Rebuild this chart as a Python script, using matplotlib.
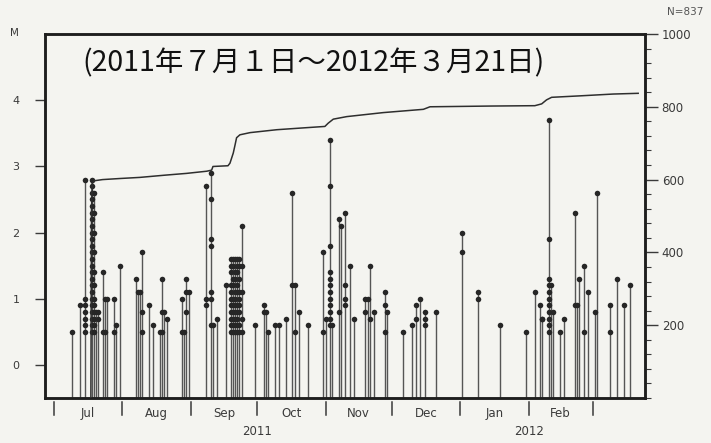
import matplotlib
matplotlib.use("Agg")
import matplotlib.pyplot as plt
import matplotlib.dates as mdates
import matplotlib.transforms as mtransforms
from matplotlib.ticker import MultipleLocator
import pandas as pd

# Events with M >= 0.5, grouped by day (one stem per day, one dot per event)
quake_dates = [
    "2011-07-09", "2011-07-13", "2011-07-15", "2011-07-18", "2011-07-19",
    "2011-07-20", "2011-07-21", "2011-07-23", "2011-07-24", "2011-07-25",
    "2011-07-28", "2011-07-29", "2011-07-31",
    "2011-08-07", "2011-08-08", "2011-08-09", "2011-08-10", "2011-08-13",
    "2011-08-15", "2011-08-18", "2011-08-19", "2011-08-20", "2011-08-21",
    "2011-08-28", "2011-08-29", "2011-08-30", "2011-08-31",
    "2011-09-08", "2011-09-10", "2011-09-11", "2011-09-13", "2011-09-17",
    "2011-09-19", "2011-09-20", "2011-09-21", "2011-09-22", "2011-09-23",
    "2011-09-24", "2011-09-30",
    "2011-10-04", "2011-10-05", "2011-10-06", "2011-10-09", "2011-10-11",
    "2011-10-14", "2011-10-17", "2011-10-18", "2011-10-20", "2011-10-24",
    "2011-10-31",
    "2011-11-01", "2011-11-03", "2011-11-04", "2011-11-07", "2011-11-08",
    "2011-11-10", "2011-11-12", "2011-11-14", "2011-11-19", "2011-11-20",
    "2011-11-21", "2011-11-23", "2011-11-28", "2011-11-29",
    "2011-12-06", "2011-12-10", "2011-12-12", "2011-12-14", "2011-12-16",
    "2011-12-21",
    "2012-01-02", "2012-01-09", "2012-01-19", "2012-01-31",
    "2012-02-04", "2012-02-06", "2012-02-07", "2012-02-10", "2012-02-11",
    "2012-02-12", "2012-02-15", "2012-02-17", "2012-02-22", "2012-02-23",
    "2012-02-24", "2012-02-26", "2012-02-28",
    "2012-03-02", "2012-03-03", "2012-03-09", "2012-03-12", "2012-03-15",
    "2012-03-18",
]

quake_mags = [
    [0.5], [0.9], [2.8, 1.0, 0.9, 0.8, 0.7, 0.6, 0.5],
    [2.8, 2.7, 2.6, 2.5, 2.4, 2.3, 2.2, 2.1, 2.0, 1.9, 1.8, 1.7,
     1.6, 1.5, 1.4, 1.3, 1.2, 1.1, 1.0, 0.9, 0.8, 0.7, 0.6, 0.5],
    [2.6, 2.3, 2.0, 1.7, 1.4, 1.2, 1.0, 0.9, 0.8, 0.7, 0.6, 0.5],
    [0.8], [0.8, 0.7], [1.4, 0.5], [1.0, 0.5], [1.0],
    [1.0, 0.5], [0.6], [1.5],
    [1.3], [1.1], [1.1], [1.7, 0.8, 0.5], [0.9],
    [0.6], [0.5], [1.3, 0.8, 0.5], [0.8], [0.7],
    [1.0, 0.5], [0.5], [1.3, 1.1, 0.8], [1.1],
    [2.7, 1.0, 0.9], [2.9, 2.5, 1.9, 1.8, 1.1, 1.0, 0.6], [0.6], [0.7], [1.2],
    [1.6, 1.5, 1.4, 1.2, 1.1, 1.0, 0.9, 0.8, 0.7, 0.6, 0.5],
    [1.6, 1.5, 1.3, 1.2, 1.0, 0.9, 0.8, 0.7, 0.6, 0.5],
    [1.6, 1.4, 1.3, 1.1, 1.0, 0.9, 0.8, 0.7, 0.6, 0.5],
    [1.6, 1.5, 1.4, 1.2, 1.1, 0.9, 0.8, 0.7, 0.6, 0.5],
    [1.6, 1.5, 1.3, 1.1, 1.0, 0.9, 0.8, 0.6, 0.5],
    [2.1, 1.5, 1.1, 0.7, 0.5], [0.6],
    [0.9, 0.8], [0.8], [0.5], [0.6], [0.6],
    [0.7], [2.6, 1.2], [1.2, 0.5], [0.8], [0.6],
    [1.7, 0.5],
    [0.7], [3.4, 2.7, 1.8, 1.4, 1.3, 1.2, 1.1, 1.0, 0.9, 0.8, 0.7, 0.6],
    [0.6], [2.2, 0.8], [2.1],
    [2.3, 1.2, 1.0, 0.9], [1.5], [0.7], [1.0, 0.8], [1.0],
    [1.5, 0.7], [0.8], [1.1, 0.9, 0.5], [0.8],
    [0.5], [0.6], [0.9, 0.7], [1.0], [0.8, 0.7, 0.6],
    [0.8],
    [2.0, 1.7], [1.1, 1.0], [0.6], [0.5],
    [1.1], [0.9], [0.7, 0.7],
    [3.7, 1.9, 1.3, 1.2, 1.1, 1.0, 0.9, 0.8, 0.7, 0.6, 0.5], [1.2],
    [0.8], [0.5], [0.7], [2.3, 0.9], [0.9],
    [1.3], [1.5, 0.5], [1.1],
    [0.8], [2.6], [0.9, 0.5], [1.3], [0.9],
    [1.2],
]

# Cumulative number of events, days counted from 2011-07-01
cum_days = [16.7, 17.0, 17.3, 18.5, 22, 30, 38.9, 50, 60, 69.2,
            71.4, 72.0, 78.8, 79.7, 81.2, 82.0, 82.7, 84.2, 88.8, 100.9,
            112.9, 122.7, 124.2, 126.5, 132.6, 149.1, 167.3, 170.3, 197.5,
            217.8, 220.9, 223.1, 225.4, 238.2, 253.3, 264.6]
cum_counts = [0, 520, 590, 597, 600, 603, 606, 612, 617, 623,
              626, 636, 638, 645, 673, 695, 715, 723, 729, 737,
              742, 746, 755, 766, 773, 784, 793, 800, 802,
              803, 808, 819, 826, 830, 835, 837]

month_starts = ["2011-07-01", "2011-08-01", "2011-09-01", "2011-10-01",
                "2011-11-01", "2011-12-01", "2012-01-01", "2012-02-01",
                "2012-03-01"]
month_names = ["Jul", "Aug", "Sep", "Oct", "Nov", "Dec", "Jan", "Feb"]
year_names = ["2011", "2012"]
year_centers = ["2011-10-01", "2012-02-01"]

mag_ticks = [0, 1, 2, 3, 4]
count_ticks = [200, 400, 600, 800, 1000]

BG = "#f4f4f0"
STEM = "#555555"
DOT = "#262626"
TEXT = "#3a3a3a"

fig = plt.figure(figsize=(7.11, 4.43), dpi=100, facecolor=BG)
ax = fig.add_axes([0.0626, 0.1016, 0.8446, 0.8217], facecolor=BG)
ax2 = ax.twinx()

t0 = pd.Timestamp("2011-07-01")
ax.set_xlim(mdates.date2num(t0 - pd.Timedelta(days=4.3)),
            mdates.date2num(t0 + pd.Timedelta(days=267.7)))
ax.set_ylim(-0.5, 5.0)
ax2.set_ylim(0, 1000)

# stems from the bottom of the frame up to the largest event of each day
xs = mdates.date2num(pd.to_datetime(quake_dates))
tops = [max(m) for m in quake_mags]
ax.vlines(xs, -0.5, tops, color=STEM, lw=1.0, zorder=2)
dot_x = [x for x, m in zip(xs, quake_mags) for _ in m]
dot_y = [v for m in quake_mags for v in m]
ax.plot(dot_x, dot_y, "o", ms=4.0, color=DOT, mec="none", zorder=3)

# cumulative count on the right axis
cum_x = mdates.date2num(t0 + pd.to_timedelta(cum_days, unit="D"))
ax2.plot(cum_x, cum_counts, color="#2e2e2e", lw=1.1, zorder=4)

for a in (ax, ax2):
    for s in a.spines.values():
        s.set_linewidth(1.8)
        s.set_color("#1e1e1e")

ax.set_xticks([])
ax.set_yticks(mag_ticks)
ax.tick_params(axis="y", direction="out", length=7, width=1.0, pad=11,
               labelsize=8, colors=TEXT)
ax2.set_yticks(count_ticks)
ax2.yaxis.set_minor_locator(MultipleLocator(40))
ax2.tick_params(axis="y", which="major", direction="out", length=9,
                width=1.0, pad=3, labelsize=8.5, colors=TEXT)
ax2.tick_params(axis="y", which="minor", direction="out", length=4,
                width=0.8, colors=TEXT)

# month boundaries hang a little below the frame
trans = mtransforms.blended_transform_factory(ax.transData, ax.transAxes)
ms_x = mdates.date2num(pd.to_datetime(month_starts))
for x in ms_x:
    ax.plot([x, x], [-0.011, -0.047], transform=trans, clip_on=False,
            color=TEXT, lw=1.1)
for name, a, b in zip(month_names, ms_x[:-1], ms_x[1:]):
    ax.text((a + b) / 2, -0.043, name, transform=trans, ha="center",
            va="center", fontsize=8.5, color=TEXT)
for name, d in zip(year_names, year_centers):
    ax.text(mdates.date2num(pd.Timestamp(d)), -0.093, name, transform=trans,
            ha="center", va="center", fontsize=8.5, color=TEXT)

ax.text(0.0625, 0.92, "(2011年７月１日～2012年３月21日)",
        transform=ax.transAxes, ha="left", va="center", fontsize=20.5,
        color="#111111", family=["Noto Sans CJK JP", "DejaVu Sans"])

fig.text(0.02, 1 - 33 / 443, "M", ha="center", va="center", fontsize=7.5,
         color=TEXT)
fig.text(0.989, 1 - 12 / 443, "N=837", ha="right", va="center", fontsize=7.5,
         color="#555555")

fig.savefig("out.png", dpi=100, facecolor=BG)
